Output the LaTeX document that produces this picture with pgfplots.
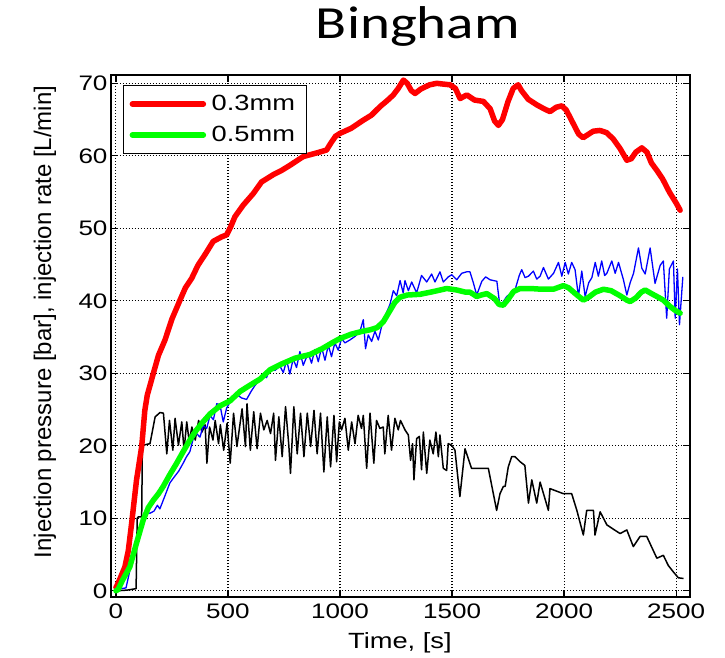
\documentclass[border=0pt]{standalone}
\usepackage{graphicx}
\usepackage{fontspec}
\setmainfont{Liberation Sans}
\newfontfamily\titlefont{Carlito}
\usepackage{pgfplots}
\pgfplotsset{compat=1.18}
\definecolor{mred}{RGB}{255,0,0}
\definecolor{mgreen}{RGB}{0,255,0}
\definecolor{mblue}{RGB}{0,0,255}
\newcommand{\sx}[1]{\scalebox{1.24}[1]{#1}}
\begin{document}
\begin{tikzpicture}
\path (-111pt,-61pt) rectangle (614pt,597pt);
\begin{axis}[
  anchor=south west,
  scale only axis, width=579pt, height=522pt,
  xmin=-22, xmax=2562, ymin=-0.85, ymax=71.15,
  xtick={0,500,1000,1500,2000,2500},
  ytick={0,10,20,30,40,50,60,70},
  xticklabels={\sx{0},\sx{500},\sx{1000},\sx{1500},\sx{2000},\sx{2500}},
  yticklabels={\sx{0},\sx{10},\sx{20},\sx{30},\sx{40},\sx{50},\sx{60},\sx{70}},
  tick label style={font=\fontsize{21}{24}\selectfont},
  xticklabel style={yshift=-3pt},
  tick align=inside, major tick length=7pt,
  tick style={line width=1.2pt, draw=black},
  axis line style={line width=1.8pt, black},
  xmajorgrids=true, ymajorgrids=true,
  grid style={line width=1.1pt, draw=black, dash pattern=on 1.2pt off 1.8pt},
  title={\titlefont\fontsize{46}{50}\selectfont\sx{Bingham}},
  title style={at={(rel axis cs:0.530,1.0575)}, anchor=base},
  xlabel={\sx{Time, [s]}},
  xlabel style={font=\fontsize{22}{26}\selectfont, at={(rel axis cs:0.499,-0.0880)}, anchor=center},
  ylabel={\fontsize{24}{28}\selectfont Injection pressure [bar], injection rate [L/min]},
  ylabel style={at={(rel axis cs:-0.114,0.527)}, anchor=center},
  legend style={at={(rel axis cs:0.0207,0.981)}, anchor=north west,
    draw=black, line width=1.3pt, inner xsep=6pt, inner ysep=3pt,
    font=\fontsize{22}{26}\selectfont,
    nodes={inner sep=5.5pt, text height=16pt, text depth=4pt}},
  legend cell align=left,
  legend image code/.code={\draw[#1] (0pt,0pt) -- (71pt,0pt);},
]
% grid lines and inner ticks, drawn as plots (MATLAB style)
\pgfplotsinvokeforeach{0,500,1000,1500,2000,2500}{
  \addplot[forget plot, black, line width=1.1pt, dash pattern=on 1.2pt off 1.8pt] coordinates {(#1,-0.85) (#1,71.15)};
  \addplot[forget plot, black, line width=1.2pt] coordinates {(#1,-0.85) (#1,0.12)};
  \addplot[forget plot, black, line width=1.2pt] coordinates {(#1,71.15) (#1,70.18)};
}
\pgfplotsinvokeforeach{0,10,20,30,40,50,60,70}{
  \addplot[forget plot, black, line width=1.1pt, dash pattern=on 1.2pt off 1.8pt] coordinates {(-22,#1) (2562,#1)};
  \addplot[forget plot, black, line width=1.2pt] coordinates {(-22,#1) (9,#1)};
  \addplot[forget plot, black, line width=1.2pt] coordinates {(2562,#1) (2531,#1)};
}
% black: injection pressure
\addplot[black, line width=1.5pt, line join=round, forget plot] coordinates {
(0,0) (50,0.1) (90,0.3) (95,10) (100,10.2) (115,10.2) (118,20) (122,20.1) (152,20.3) (175,24.0) (197,24.6) (212,24.5) (227,18.9) (239,23.5) (254,19.4) (264,23.8) (279,20.1) (294,23.3) (304,19.4) (316,23.3) (327,20.6) (339,22.6) (354,20.8) (369,23.5) (384,21.9) (398,22.9) (406,17.6) (418,22.6) (433,20.8) (443,23.5) (458,20.3) (466,22.9) (481,19.4) (496,23.1) (510,17.6) (525,24.5) (540,19.9) (563,25.1) (578,19.9) (585,25.8) (600,19.4) (615,24.7) (630,19.6) (645,24.5) (660,22.2) (675,23.5) (690,21.7) (704,24.5) (712,18.0) (727,24.0) (742,18.5) (757,25.4) (772,19.9) (779,16.2) (794,25.4) (809,18.9) (824,24.5) (839,18.5) (854,24.5) (869,19.9) (884,24.9) (898,18.9) (913,24.5) (928,16.4) (943,24.0) (958,17.1) (973,24.2) (985,17.8) (997,23.3) (1007,22.2) (1022,23.8) (1037,19.4) (1052,23.3) (1067,20.3) (1081,24.2) (1096,22.4) (1104,24.2) (1119,16.9) (1134,24.5) (1151,17.6) (1163,23.5) (1178,22.4) (1193,22.6) (1200,18.9) (1215,24.2) (1230,19.4) (1245,23.8) (1260,22.2) (1270,23.5) (1290,22.2) (1305,21.5) (1315,18.0) (1324,20.3) (1330,15.3) (1342,21.0) (1354,21.3) (1364,16.7) (1372,21.9) (1387,16.2) (1401,20.8) (1416,18.9) (1428,21.9) (1439,18.5) (1446,21.5) (1461,16.9) (1476,16.6) (1483,20.3) (1498,20.1) (1513,19.4) (1535,13.0) (1558,19.6) (1587,16.9) (1662,16.9) (1699,11.1) (1714,13.4) (1729,14.4) (1737,14.4) (1751,17.1) (1766,18.5) (1781,18.5) (1804,17.8) (1825,17.3) (1841,12.1) (1856,15.3) (1878,12.1) (1893,15.0) (1930,11.1) (1937,14.1) (1997,13.4) (2034,13.4) (2057,11.1) (2086,7.7) (2101,11.1) (2131,11.1) (2138,7.7) (2161,10.9) (2191,9.1) (2220,8.5) (2250,7.9) (2280,8.4) (2309,6.1) (2339,7.5) (2369,7.5) (2414,4.5) (2443,4.9) (2465,3.5) (2488,2.6) (2510,1.8) (2533,1.7)
};
% blue: injection rate (raw)
\addplot[mblue, line width=1.3pt, line join=round, forget plot] coordinates {
(0,0.2) (20,0.3) (45,0.4) (60,2.5) (80,5.5) (100,8.0) (120,9.8) (140,10.8) (152,10.7) (170,11.0) (185,11.8) (196,11.3) (215,12.8) (241,14.9) (260,15.7) (280,16.5) (300,17.6) (315,18.5) (330,19.2) (345,21.0) (360,21.7) (375,21.2) (390,22.8) (405,22.4) (420,24.2) (435,23.6) (450,25.8) (464,25.7) (479,23.3) (494,25.2) (516,26.4) (538,27.1) (561,26.6) (583,26.4) (605,27.6) (620,28.3) (643,29.2) (657,29.9) (672,29.4) (687,30.6) (710,30.4) (732,31.0) (747,30.1) (762,31.8) (776,29.9) (791,32.0) (806,30.8) (821,33.0) (836,31.1) (858,32.8) (873,31.4) (888,33.3) (903,31.6) (918,33.6) (933,31.8) (948,33.9) (962,32.3) (977,34.2) (992,33.2) (1007,34.8) (1022,34.2) (1044,34.6) (1067,35.1) (1089,35.8) (1104,37.4) (1114,33.4) (1126,35.3) (1141,34.4) (1156,35.8) (1171,34.6) (1186,36.5) (1201,37.9) (1223,39.5) (1238,41.4) (1253,40.7) (1268,42.8) (1282,41.1) (1290,42.8) (1305,41.4) (1320,42.6) (1342,41.1) (1364,43.5) (1387,42.6) (1409,43.7) (1424,42.6) (1446,44.0) (1461,42.6) (1483,43.3) (1499,43.6) (1521,42.9) (1543,43.8) (1565,44.0) (1580,44.0) (1595,42.5) (1610,40.8) (1633,42.7) (1650,43.3) (1670,42.9) (1700,42.7) (1714,39.2) (1744,40.6) (1781,41.5) (1800,43.5) (1811,44.3) (1826,43.2) (1841,43.4) (1863,44.1) (1878,43.0) (1893,43.4) (1908,44.6) (1930,43.0) (1953,43.8) (1975,45.3) (1990,43.4) (2005,45.3) (2019,43.7) (2034,45.3) (2049,44.3) (2064,40.6) (2079,44.1) (2094,40.6) (2110,42.5) (2124,43.2) (2139,45.3) (2153,43.4) (2168,45.5) (2181,43.5) (2191,43.8) (2213,45.5) (2228,43.8) (2243,45.3) (2265,42.9) (2280,40.8) (2295,42.5) (2310,43.8) (2332,47.3) (2347,44.5) (2362,43.7) (2384,47.3) (2406,42.4) (2429,44.9) (2443,45.5) (2458,37.6) (2470,44.4) (2488,45.5) (2496,37.6) (2506,44.4) (2515,36.7) (2530,43.3)
};
% red: 0.3mm
\addplot[mred, line width=5.5pt, line join=round, line cap=round] coordinates {
(0,0.5) (3,0.6) (20,1.8) (40,3.3) (55,5.5) (70,9.3) (92,15.3) (115,19.9) (129,24.9) (140,27) (167,30) (190,32.5) (219,34.6) (250,37.5) (286,40.1) (310,41.8) (338,43.1) (366,44.9) (400,46.5) (434,48.2) (470,48.8) (494,49.1) (512,50.2) (531,51.6) (568,53.2) (613,54.8) (650,56.4) (702,57.4) (740,58) (777,58.7) (821,59.6) (836,59.9) (896,60.4) (940,60.8) (960,61.8) (980,62.7) (1000,63.1) (1050,63.8) (1103,64.9) (1140,65.6) (1179,66.8) (1210,67.6) (1238,68.4) (1260,69.3) (1283,70.45) (1300,70) (1318,69) (1335,68.6) (1360,69.2) (1400,69.8) (1432,70) (1460,69.9) (1491,69.8) (1515,69.3) (1536,67.9) (1566,68.4) (1600,67.7) (1640,67.5) (1670,66.5) (1690,64.8) (1707,64.2) (1725,65) (1750,67.5) (1773,69.3) (1795,69.8) (1810,69) (1840,67.8) (1880,67) (1910,66.5) (1937,66.1) (1965,66.7) (1990,66.9) (2010,66.3) (2040,64.5) (2065,63) (2085,62.5) (2110,63) (2130,63.4) (2160,63.5) (2190,63.2) (2220,62.3) (2250,61) (2280,59.4) (2300,59.6) (2320,60.5) (2347,61.1) (2370,60.5) (2390,59) (2414,58) (2440,56.8) (2470,55) (2500,53.5) (2518,52.5)
};
\addlegendentry{\sx{0.3mm}}
% green: 0.5mm
\addplot[mgreen, line width=5.5pt, line join=round, line cap=round] coordinates {
(0,0) (10,0.2) (30,1.5) (62,3.3) (92,6.6) (122,9.8) (145,11.5) (167,12.5) (190,13.4) (211,14.4) (240,16) (271,17.6) (300,19.2) (330,20.8) (355,22) (383,23.1) (420,24.4) (464,25.5) (509,26.2) (554,27.5) (600,28.4) (643,29.2) (688,30.5) (740,31.3) (800,32.1) (866,32.6) (920,33.4) (970,34.3) (1000,34.8) (1050,35.4) (1100,35.8) (1134,36) (1165,36.3) (1193,37.1) (1220,38.5) (1245,39.8) (1268,40.5) (1300,40.8) (1357,40.9) (1420,41.3) (1476,41.7) (1520,41.5) (1560,41.2) (1580,41.2) (1610,40.6) (1630,40.8) (1655,41) (1690,40.3) (1710,39.5) (1729,39.4) (1750,40.2) (1775,41.3) (1804,41.7) (1850,41.7) (1900,41.6) (1952,41.6) (1997,42.1) (2020,41.8) (2050,41) (2086,40.1) (2110,40.5) (2140,41.2) (2176,41.6) (2210,41.4) (2250,40.7) (2280,40.1) (2295,39.9) (2320,40.4) (2345,41.2) (2362,41.5) (2390,41) (2420,40.5) (2443,40.1) (2470,39.3) (2495,38.7) (2518,38.3)
};
\addlegendentry{\sx{0.5mm}}
\end{axis}
\end{tikzpicture}
\end{document}
